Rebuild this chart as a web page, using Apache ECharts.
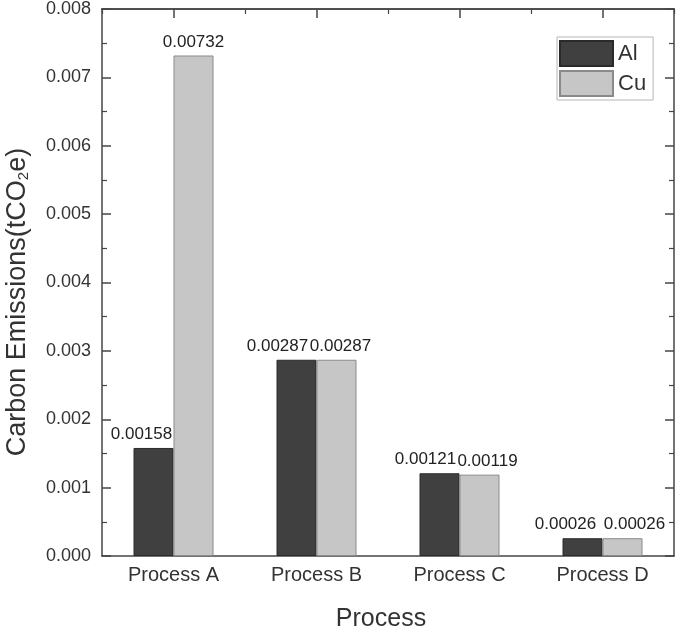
<!DOCTYPE html>
<html>
<head>
<meta charset="utf-8">
<script src="https://cdn.jsdelivr.net/npm/echarts@6/dist/echarts.min.js"></script>
<style>html,body{margin:0;padding:0;background:#fff}#c{width:677px;height:631px}</style>
</head>
<body>
<div id="c"></div>
<script>
const categories = ['Process A', 'Process B', 'Process C', 'Process D'];
const seriesNames = ['Al', 'Cu'];
const alValues = [0.00158, 0.00287, 0.00121, 0.00026];
const cuValues = [0.00732, 0.00287, 0.00119, 0.00026];
const alLabels = ['0.00158', '0.00287', '0.00121', '0.00026'];
const cuLabels = ['0.00732', '0.00287', '0.00119', '0.00026'];
const yTicks = { min: 0, max: 0.008, interval: 0.001 };

const FONT = '"Liberation Sans", Arial, sans-serif';
const AXIS = '#454545';
const TXT = '#333';
const alOffsets = [[-12, 0], [-19, 0], [-14, 0], [-17, 0]];
const cuOffsets = [[0, 0], [4, 0], [8, 0], [12, 0]];

function buildData(values, labels, offsets) {
  return values.map((v, i) => ({
    value: v,
    label: { formatter: labels[i], offset: offsets[i] }
  }));
}

const chart = echarts.init(document.getElementById('c'), null, { renderer: 'canvas' });
const catAxisBase = {
  type: 'category', data: categories,
  axisLine: { show: true, onZero: false, lineStyle: { color: AXIS, width: 1.5 } },
  splitLine: { show: false }
};
const valAxisBase = {
  type: 'value', min: yTicks.min, max: yTicks.max, interval: yTicks.interval,
  axisLine: { show: true, lineStyle: { color: AXIS, width: 1.5 } },
  axisTick: { show: true, inside: true, length: 9, lineStyle: { color: AXIS, width: 1.5 } },
  minorTick: { show: true, splitNumber: 2, length: 5, lineStyle: { color: AXIS, width: 1.2 } },
  splitLine: { show: false }
};

chart.setOption({
  animation: false,
  backgroundColor: '#fff',
  textStyle: { fontFamily: FONT },
  grid: { left: 102, right: 3, top: 8, bottom: 75, containLabel: false },
  legend: {
    data: seriesNames,
    orient: 'vertical',
    left: 557, top: 37,
    itemWidth: 53, itemHeight: 25, itemGap: 3,
    padding: [3, 7, 3, 2],
    borderColor: '#b5b5b5', borderWidth: 1, backgroundColor: '#fff',
    icon: 'rect',
    textStyle: { fontFamily: FONT, fontSize: 22, color: TXT }
  },
  xAxis: [
    Object.assign({}, catAxisBase, {
      position: 'bottom',
      axisTick: { show: false },
      axisLabel: { fontFamily: FONT, fontSize: 20, color: TXT, margin: 9 }
    }),
    Object.assign({}, catAxisBase, {
      position: 'top',
      axisTick: { show: true, inside: true, alignWithLabel: true, length: 9, lineStyle: { color: AXIS, width: 1.5 } },
      axisLabel: { show: false }
    }),
    Object.assign({}, catAxisBase, {
      position: 'top',
      axisTick: { show: true, inside: true, length: 5, lineStyle: { color: AXIS, width: 1.2 } },
      axisLabel: { show: false }
    })
  ],
  yAxis: [
    Object.assign({}, valAxisBase, {
      position: 'left',
      axisLabel: { fontFamily: FONT, fontSize: 18, color: TXT, margin: 11, formatter: v => v.toFixed(3) }
    }),
    Object.assign({}, valAxisBase, {
      position: 'right',
      axisLabel: { show: false }
    })
  ],
  series: [
    {
      name: seriesNames[0], type: 'bar', xAxisIndex: 0, yAxisIndex: 0,
      barWidth: 40, barGap: '0%',
      itemStyle: { color: '#404040', borderColor: '#2a2a2a', borderWidth: 1 },
      label: { show: true, position: 'top', distance: 5, fontFamily: FONT, fontSize: 17, color: '#222' },
      data: buildData(alValues, alLabels, alOffsets)
    },
    {
      name: seriesNames[1], type: 'bar', xAxisIndex: 0, yAxisIndex: 0,
      barWidth: 40, barGap: '0%',
      itemStyle: { color: '#c6c6c6', borderColor: '#8a8a8a', borderWidth: 1 },
      label: { show: true, position: 'top', distance: 5, fontFamily: FONT, fontSize: 17, color: '#222' },
      data: buildData(cuValues, cuLabels, cuOffsets)
    }
  ],
  graphic: [
    {
      type: 'text', x: 18, y: 302, rotation: Math.PI / 2,
      style: {
        text: 'Carbon Emissions(tCO{s|2}e)',
        fontFamily: FONT, fontSize: 27, fill: TXT,
        textAlign: 'center', textVerticalAlign: 'middle',
        rich: { s: { fontFamily: FONT, fontSize: 15, fill: TXT, verticalAlign: 'bottom', padding: [11, 0, 0, 0] } }
      }
    },
    {
      type: 'text', x: 381, y: 619,
      style: {
        text: 'Process', fontFamily: FONT, fontSize: 25, fill: TXT,
        textAlign: 'center', textVerticalAlign: 'middle'
      }
    }
  ]
});
</script>
</body>
</html>
